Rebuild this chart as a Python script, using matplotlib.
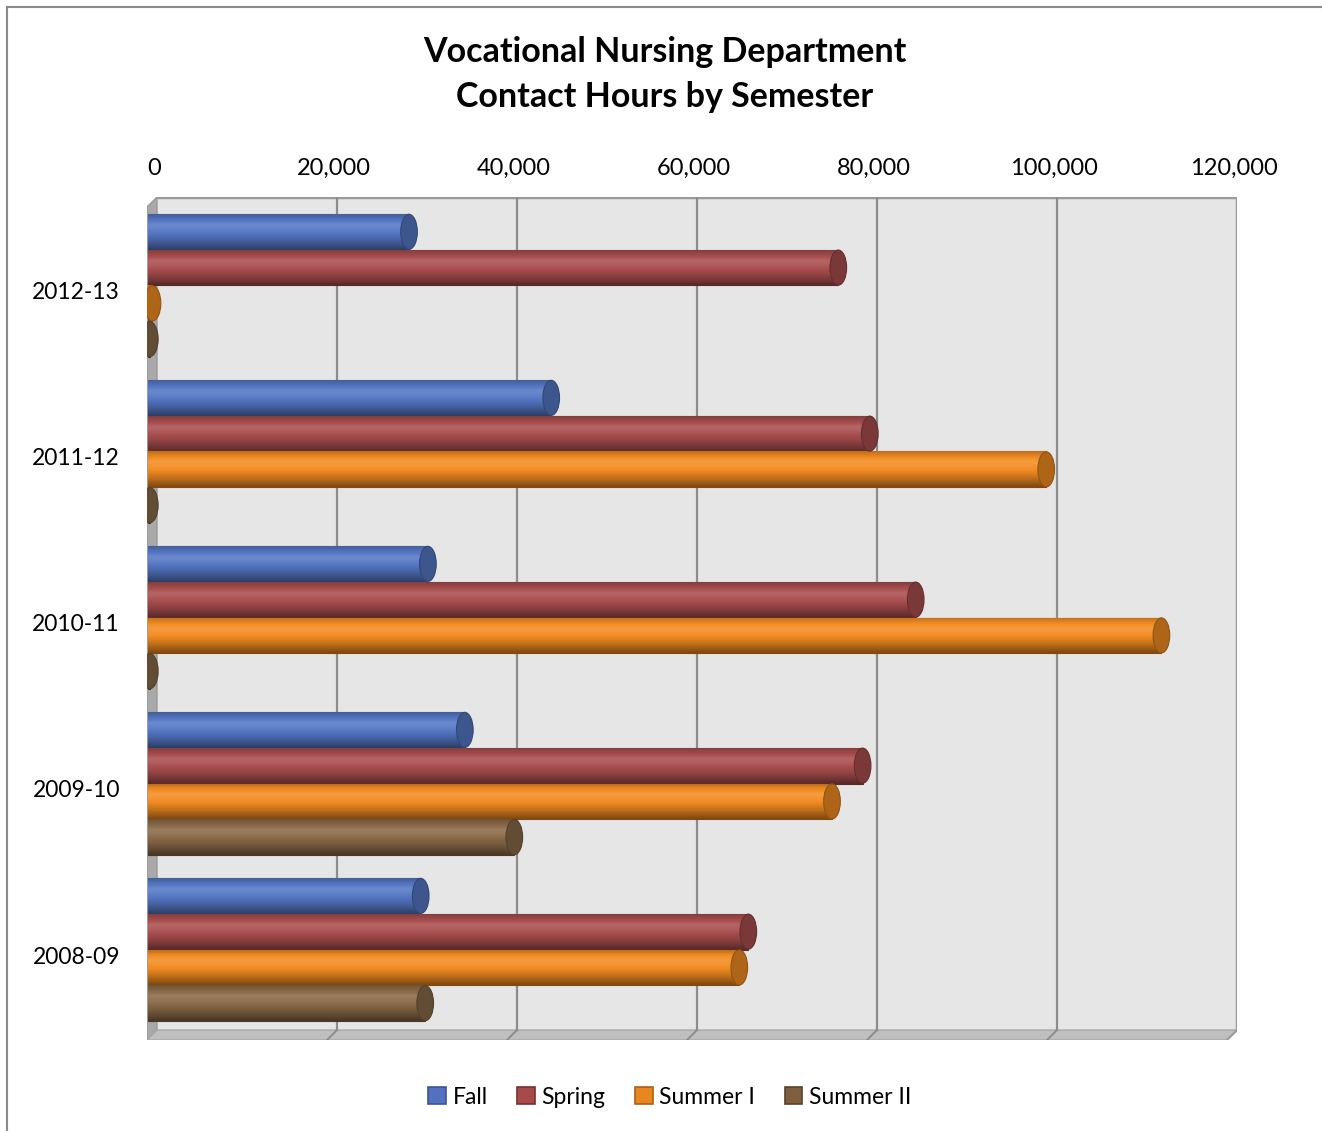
import matplotlib
matplotlib.use("Agg")
import matplotlib.pyplot as plt
from matplotlib.patches import Ellipse, Polygon, Rectangle, Patch
from matplotlib.lines import Line2D
import matplotlib.colors as mcolors

plt.rcParams['font.family'] = ['Lato', 'DejaVu Sans']

years = ["2012-13", "2011-12", "2010-11", "2009-10", "2008-09"]
series = ["Fall", "Spring", "Summer I", "Summer II"]
fall = [29000, 44800, 31100, 35200, 30300]
spring = [76700, 80200, 85300, 79400, 66700]
summer1 = [500, 99800, 112600, 76000, 65700]
summer2 = [200, 200, 200, 40700, 30800]
ticks = [0, 20000, 40000, 60000, 80000, 100000, 120000]
tick_labels = ["0", "20,000", "40,000", "60,000", "80,000", "100,000", "120,000"]

base_colors = ["#5577C4", "#A94E4E", "#F28C22", "#8A6A48"]
legend_colors = ["#5470C0", "#A8494A", "#E8861F", "#7E6040"]
legend_edges = ["#3A5590", "#7A3030", "#B06010", "#5A4228"]

fig = plt.figure(figsize=(13.22, 11.31), dpi=100)
ax = fig.add_axes([147/1322, 1 - 1040/1131, 1090/1322, 843/1131])

x_lo, x_hi = -111, 121000
y_top, y_bot = -0.566, 4.512
dx, dy = 1111, 0.0602   # depth of the 3D walls (about 10 px)
wall_x = dx - 111
floor_y = y_bot - dy

# back wall, left wall, floor
ax.add_patch(Rectangle((wall_x, y_top), x_hi - wall_x, floor_y - y_top,
                       facecolor="#e6e6e6", edgecolor="none", zorder=0))
ax.add_patch(Polygon([(x_lo, y_top + dy), (wall_x, y_top), (wall_x, floor_y), (x_lo, y_bot)],
                     facecolor="#a9a9a9", edgecolor="#9a9a9a", lw=1, zorder=1))
ax.add_patch(Polygon([(wall_x, floor_y), (x_hi, floor_y), (x_hi - dx, y_bot), (x_lo, y_bot)],
                     facecolor="#bfbfbf", edgecolor="#a8a8a8", lw=1, zorder=1))
ax.plot([wall_x, x_hi, x_hi], [y_top, y_top, floor_y], color="#9a9a9a", lw=2.5, zorder=1,
        solid_capstyle="projecting")
ax.plot([x_hi, x_hi - dx], [floor_y, y_bot], color="#9a9a9a", lw=1.5, zorder=1)

# gridlines on the back wall and floor
for t in ticks[1:-1]:
    ax.plot([t + wall_x, t + wall_x], [y_top, floor_y], color="#8c8c8c", lw=1.6, zorder=1)
    ax.plot([t + wall_x, t - 111], [floor_y, y_bot], color="#8c8c8c", lw=1.4, zorder=2)


def shade(c, b):
    r, g, bl = mcolors.to_rgb(c)
    if b >= 1:
        return tuple(v + (1 - v) * (b - 1) for v in (r, g, bl))
    return tuple(v * b for v in (r, g, bl))


h = 0.2154
n = 36
data = [fall, spring, summer1, summer2]
for j, vals in enumerate(data):
    for i, v in enumerate(vals):
        yc = i - 0.033 + (j - 1.5) * h
        for k in range(n):
            t = (k + 0.5) / n
            if t < 0.3:
                b = 0.78 + 0.35 * (t / 0.3)
            else:
                b = 1.13 - 0.62 * ((t - 0.3) / 0.7) ** 1.4
            c = shade(base_colors[j], b)
            ax.barh(yc - h / 2 + (k + 0.5) * h / n, v, height=h / n, left=0,
                    color=c, edgecolor=c, lw=0.8, zorder=3 + j * 0.01)
        ax.add_patch(Ellipse((v, yc), 1850, h * 0.98, facecolor=shade(base_colors[j], 0.72),
                             edgecolor=shade(base_colors[j], 0.6), lw=0.8, zorder=3.5 + j * 0.01))

ax.set_xlim(x_lo, x_hi)
ax.set_ylim(y_bot, y_top)
ax.set_facecolor("none")
for s in ax.spines.values():
    s.set_visible(False)

ax.xaxis.tick_top()
ax.set_xticks([t + 667 for t in ticks])
ax.set_xticklabels(tick_labels, fontsize=17)
ax.tick_params(axis="x", length=0, pad=13)
ax.set_yticks(range(len(years)))
ax.set_yticklabels(years, fontsize=16.5)
ax.tick_params(axis="y", length=0, pad=19.5)

fig.text(665/1322, 1 - 52/1131, "Vocational Nursing Department", ha="center", va="center",
         fontsize=24.5, fontweight="bold")
fig.text(665/1322, 1 - 97/1131, "Contact Hours by Semester", ha="center", va="center",
         fontsize=24.5, fontweight="bold")

handles = [Patch(facecolor=legend_colors[j], edgecolor=legend_edges[j], lw=1.2, label=series[j])
           for j in range(4)]
fig.legend(handles=handles, loc="center", bbox_to_anchor=(670/1322, 1 - 1097/1131), ncol=4,
           frameon=False, fontsize=16.5, handlelength=0.75, handleheight=0.75,
           handletextpad=0.3, columnspacing=1.3)

# outer chart border
fig.add_artist(Line2D([7/1322, 7/1322], [0, 1 - 7/1131], transform=fig.transFigure,
                      color="#8a8a8a", lw=1.5))
fig.add_artist(Line2D([7/1322, 1], [1 - 7/1131, 1 - 7/1131], transform=fig.transFigure,
                      color="#8a8a8a", lw=1.5))

fig.savefig("out.png", dpi=100, facecolor="white")
